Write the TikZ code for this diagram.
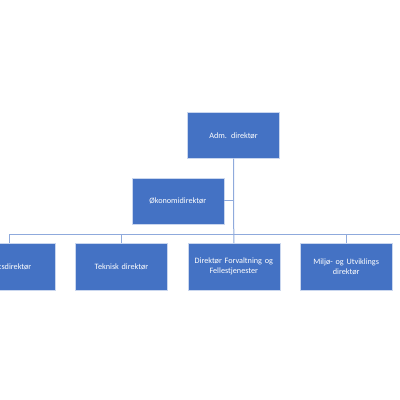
\documentclass[tikz,border=0pt]{standalone}
\usepackage{fontspec}
\setmainfont{Carlito}
\definecolor{boxfill}{HTML}{4472C4}
\definecolor{boxline}{HTML}{C9D6EE}
\definecolor{conn}{HTML}{8FAADC}
\tikzset{
  orgbox/.style={draw=boxline, line width=0.5pt, fill=boxfill, text=white,
    minimum width=92pt, minimum height=46pt, inner sep=1pt, align=center,
    font=\fontsize{8.2}{10}\selectfont, text width=90pt},
  link/.style={draw=conn, line width=1pt}
}
\begin{document}
\begin{tikzpicture}[x=1pt,y=-1pt]
\useasboundingbox (0,0) rectangle (400,400);
\clip (0,0) rectangle (400,400);
\node[orgbox] (adm) at (233.5,135.3) {Adm. direktør};
\node[orgbox] (oko) at (177.8,200.8) {Økonomidirektør};
\node[orgbox, minimum height=46.5pt] (b1) at (9,266.7) {Driftsdirektør};
\node[orgbox, minimum height=46.5pt] (b2) at (121.5,266.7) {Teknisk direktør};
\node[orgbox, minimum height=46.5pt] (b3) at (233.8,266.7) {Direktør Forvaltning og\\Fellestjenester};
\node[orgbox, minimum height=46.5pt] (b4) at (346.2,266.7) {Miljø- og Utviklings\\direktør};
\coordinate (hl) at (9,234);
\coordinate (hr) at (402,234);
\coordinate (ok) at (233.8,200.8);
\draw[link] (hl) -- (hr);
\draw[link] (adm.south) -- (b3.north);
\draw[link] (oko.east) -- (ok);
\draw[link] (hl) -- (b1.north);
\draw[link] (b2.north |- hl) -- (b2.north);
\draw[link] (b4.north |- hl) -- (b4.north);
\end{tikzpicture}
\end{document}
